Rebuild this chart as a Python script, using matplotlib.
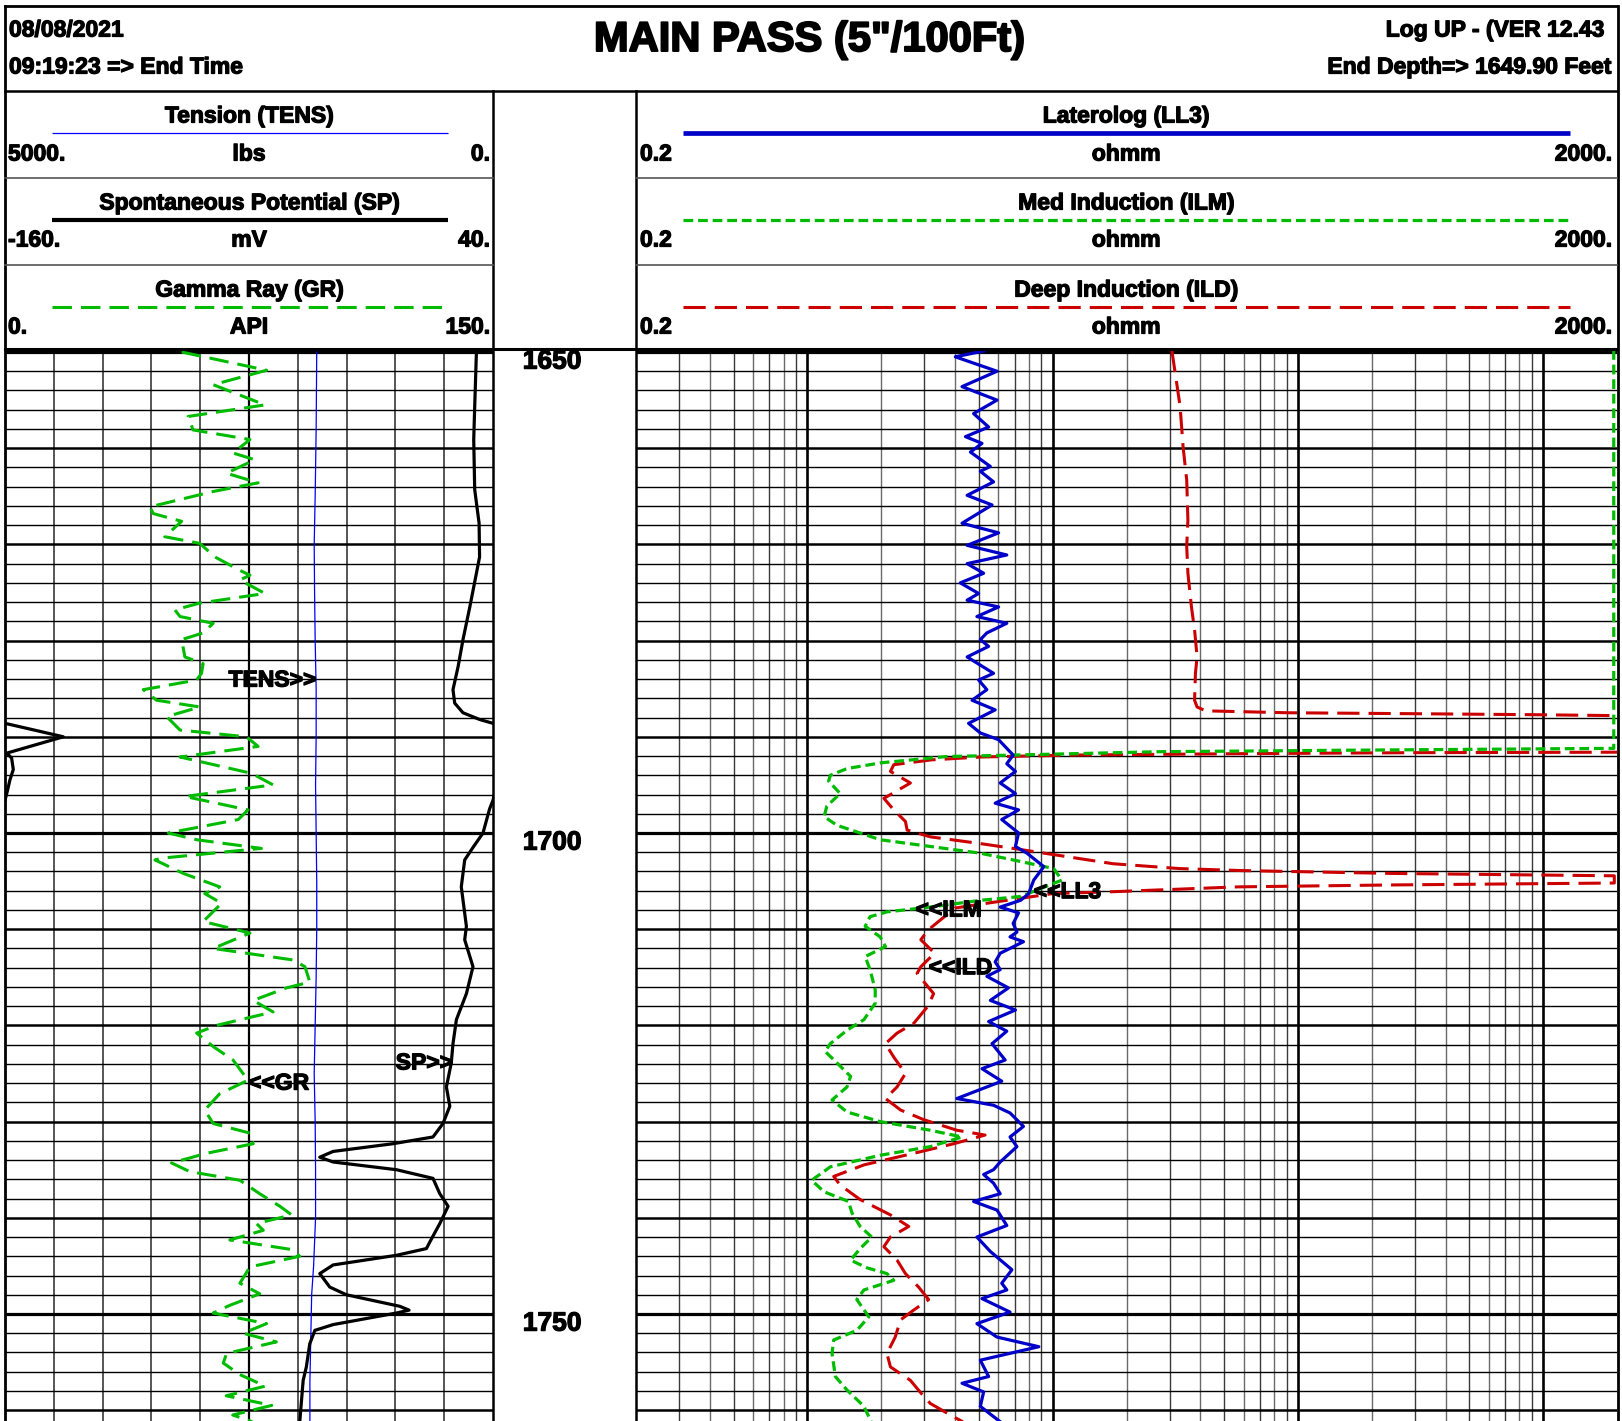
import matplotlib
matplotlib.use('Agg')
import matplotlib.pyplot as plt
import matplotlib.patheffects as pe
import numpy as np

# ---------------------------------------------------------------- data
gr_depth = [1650.0, 1651.9, 1653.4, 1655.5, 1656.7, 1658.1, 1659.1, 1660.5, 1661.2, 1662.6,
            1663.6, 1664.5, 1666.1, 1666.8, 1667.6, 1669.2, 1669.9, 1671.3, 1672.7, 1673.2,
            1673.7, 1675.1, 1676.1, 1676.8, 1677.5, 1678.2, 1679.2, 1679.9, 1681.7, 1682.4,
            1683.4, 1684.1, 1685.1, 1686.2, 1686.9, 1687.9, 1689.3, 1690.0, 1691.0, 1692.1,
            1693.8, 1695.0, 1696.2, 1697.6, 1698.6, 1700.0, 1700.7, 1701.6, 1702.6, 1702.8,
            1704.2, 1705.6, 1706.3, 1707.3, 1709.2, 1710.4, 1712.0, 1713.2, 1713.9, 1715.5,
            1716.1, 1717.4, 1718.6, 1720.0, 1720.8, 1722.2, 1723.6, 1725.7, 1727.1, 1728.8,
            1730.2, 1731.2, 1732.3, 1733.3, 1734.3, 1735.2, 1736.1, 1737.5, 1738.8, 1739.7,
            1740.6, 1741.3, 1742.3, 1743.3, 1744.0, 1745.1, 1746.8, 1747.9, 1749.1, 1749.9,
            1751.0, 1752.0, 1752.9, 1754.1, 1755.1, 1756.3, 1757.5, 1758.5, 1759.5, 1760.5,
            1761.2]
gr_api = [54.3, 80.4, 64.0, 79.9, 56.3, 57.8, 75.3, 70.1, 76.8, 68.1,
          77.8, 64.0, 44.5, 45.6, 54.3, 49.1, 59.9, 64.5, 72.2, 75.3,
          72.2, 79.9, 59.9, 52.2, 53.8, 64.0, 60.9, 54.3, 55.3, 60.9,
          60.4, 58.9, 42.5, 46.6, 59.9, 49.7, 53.8, 74.2, 77.8, 53.8,
          75.8, 82.4, 55.3, 74.7, 71.7, 50.2, 58.9, 78.8, 48.6, 46.1,
          54.8, 66.0, 61.4, 66.6, 60.9, 75.3, 64.0, 88.6, 92.2, 93.7,
          86.5, 76.3, 82.4, 65.0, 58.9, 64.0, 70.1, 74.7, 66.0, 61.4,
          64.0, 75.3, 76.3, 61.9, 51.2, 56.8, 72.2, 78.3, 84.5, 88.1,
          77.3, 79.4, 69.1, 88.1, 90.6, 75.3, 72.2, 78.3, 69.1, 64.0,
          80.4, 73.2, 83.4, 68.1, 67.1, 72.2, 80.0, 68.0, 82.0, 70.0,
          76.0]

sp_depth = [1650.0, 1655.7, 1659.1, 1664.3, 1667.8, 1671.3, 1673.0, 1676.5, 1679.9, 1682.7,
            1685.1, 1686.5, 1687.5, 1688.2, 1688.6, 1689.3, 1690.0, 1690.9, 1691.7, 1692.2,
            1693.4, 1694.5, 1695.6, 1696.6, 1697.5, 1700.0, 1701.5, 1702.8, 1705.6, 1709.7,
            1711.1, 1713.9, 1716.7, 1719.4, 1721.9, 1723.9, 1726.4, 1728.4, 1730.2, 1731.6,
            1732.3, 1733.1, 1733.7, 1734.2, 1735.0, 1735.9, 1737.5, 1738.8, 1740.6, 1741.9,
            1743.2, 1743.9, 1744.9, 1745.8, 1747.2, 1748.0, 1749.2, 1749.6, 1749.9, 1751.1,
            1751.7, 1753.1, 1755.5, 1756.9, 1761.2]
sp_mv = [33.2, 32.5, 32.1, 32.5, 34.3, 34.5, 33.2, 30.5, 27.7, 25.7,
         23.6, 24.3, 27.7, 34.5, 40.0, 52.0, 63.9, 51.6, 40.7, 42.7,
         43.4, 42.0, 41.0, 40.0, 38.6, 35.9, 31.8, 28.4, 27.0, 29.1,
         28.4, 31.8, 29.1, 25.0, 23.6, 22.9, 20.9, 22.3, 19.5, 15.4,
         -1.0, -25.5, -31.0, -25.5, 0.4, 15.4, 18.2, 21.6, 18.2, 15.4,
         12.7, 0.4, -25.5, -31.0, -26.9, -20.1, 1.8, 5.6, 0.4, -25.5,
         -33.0, -35.1, -36.5, -37.8, -39.2]

tens_depth = [1650, 1658, 1665, 1670, 1675, 1680, 1685, 1690, 1695, 1700, 1705, 1710,
              1715, 1720, 1725, 1730, 1735, 1740, 1745, 1748, 1752, 1757, 1761.2]
tens_lbs = [1806, 1812, 1822, 1832, 1828, 1822, 1812, 1812, 1818, 1812, 1806, 1806,
            1812, 1822, 1832, 1822, 1818, 1818, 1838, 1858, 1866, 1876, 1876]

ll3_depth = [1649.9, 1650.5, 1652.0, 1653.6, 1655.0, 1656.4, 1657.8, 1658.8, 1659.5, 1660.4,
             1661.9, 1662.4, 1663.5, 1664.9, 1665.9, 1667.8, 1668.8, 1670.1, 1671.1, 1672.0,
             1673.0, 1674.0, 1675.1, 1675.8, 1676.5, 1677.5, 1678.2, 1679.2, 1679.9, 1680.6,
             1681.7, 1683.4, 1684.1, 1685.1, 1686.2, 1687.2, 1688.6, 1689.6, 1690.3, 1691.9,
             1692.8, 1693.6, 1694.8, 1695.9, 1696.9, 1697.6, 1698.6, 1700.0, 1701.4, 1702.1,
             1703.5, 1704.9, 1706.3, 1707.0, 1707.7, 1708.3, 1709.4, 1710.3, 1710.8, 1711.3,
             1712.5, 1713.4, 1714.2, 1714.9, 1716.1, 1717.4, 1718.4, 1719.6, 1720.6, 1721.9,
             1723.6, 1724.5, 1725.8, 1727.6, 1728.3, 1729.1, 1730.5, 1731.6, 1732.6, 1734.2,
             1735.0, 1735.5, 1736.4, 1737.5, 1738.3, 1739.2, 1740.8, 1742.0, 1743.5, 1745.4,
             1746.8, 1747.5, 1748.4, 1749.8, 1751.0, 1752.4, 1753.4, 1754.8, 1756.5, 1757.2,
             1758.1, 1759.6, 1761.2]
ll3_ohmm = [5.23, 4.01, 5.93, 4.27, 5.93, 4.76, 5.48, 4.41, 5.15, 4.62,
            5.57, 5.07, 5.74, 4.48, 5.66, 4.27, 6.02, 4.48, 6.50, 4.48,
            5.23, 4.20, 4.99, 4.48, 6.02, 4.91, 6.50, 5.39, 5.07, 5.48,
            4.48, 5.74, 4.99, 5.39, 4.69, 5.83, 4.54, 5.07, 6.02, 6.90,
            6.50, 7.05, 6.11, 7.05, 5.83, 7.26, 6.20, 7.26, 7.05, 7.86,
            9.20, 8.37, 7.98, 7.40, 6.11, 7.26, 6.90, 7.15, 6.70, 7.60,
            6.11, 5.83, 6.11, 5.39, 6.60, 5.57, 7.05, 5.48, 6.50, 5.66,
            6.40, 5.15, 6.20, 4.07, 5.74, 6.70, 7.60, 6.70, 7.15, 6.11,
            5.74, 5.23, 5.74, 6.11, 4.76, 5.93, 6.50, 4.91, 5.57, 6.82,
            6.20, 6.50, 5.15, 6.70, 4.91, 5.93, 8.78, 5.07, 5.48, 4.27,
            5.23, 5.07, 6.11]

ilm_depth = [1649.8, 1691.2, 1691.4, 1691.55, 1691.9, 1692.05, 1692.7, 1693.3, 1694.0, 1694.6,
             1695.9, 1697.2, 1698.3, 1699.2, 1700.0, 1700.7, 1701.4, 1702.1, 1702.8, 1703.7,
             1704.9, 1706.6, 1707.0, 1707.7, 1708.2, 1708.7, 1709.7, 1710.8, 1711.8, 1712.85,
             1714.2, 1716.3, 1717.7, 1719.4, 1720.5, 1721.9, 1722.7, 1723.9, 1725.3, 1726.4,
             1727.75, 1729.0, 1730.0, 1730.9, 1731.6, 1732.6, 1733.5, 1734.7, 1736.1, 1737.3,
             1738.3, 1739.5, 1740.9, 1742.0, 1743.2, 1744.4, 1745.2, 1745.8, 1746.5, 1747.5,
             1748.5, 1750.3, 1751.7, 1752.7, 1754.1, 1756.5, 1757.9, 1759.6, 1761.2]
ilm_ohmm = [1940, 1940, 150, 27, 6.9, 3.7, 2.0, 1.45, 1.24, 1.22,
            1.36, 1.20, 1.17, 1.32, 1.64, 1.98, 3.17, 5.07, 6.9, 10.1,
            10.9, 7.4, 5.07, 3.17, 2.11, 1.80, 1.72, 1.98, 2.08, 1.72,
            1.80, 1.89, 1.89, 1.70, 1.45, 1.24, 1.18, 1.32, 1.50, 1.45,
            1.26, 1.45, 1.98, 3.17, 4.27, 3.17, 1.98, 1.24, 1.04, 1.17,
            1.47, 1.52, 1.64, 1.83, 1.64, 1.50, 1.75, 2.11, 2.25, 1.70,
            1.59, 1.78, 1.59, 1.28, 1.26, 1.30, 1.45, 1.70, 1.82]

ild_depth = [1649.8, 1652.2, 1655.7, 1659.8, 1663.3, 1667.5, 1670.2, 1673.0, 1676.5, 1678.9,
             1681.7, 1683.4, 1686.2, 1686.9, 1687.3, 1687.5, 1687.6, 1687.7, 1687.8, 1688.0,
             1691.4, 1691.6, 1691.65, 1691.75, 1691.9, 1692.1, 1692.4, 1692.9, 1693.6, 1694.8,
             1696.4, 1697.6, 1698.8, 1699.7, 1700.4, 1701.1, 1701.6, 1702.3, 1703.2, 1703.7,
             1703.9, 1704.2, 1704.45, 1705.2, 1705.4, 1705.6, 1706.1, 1706.3, 1706.9, 1707.3,
             1707.8, 1708.5, 1710.1, 1711.1, 1712.5, 1713.9, 1714.6, 1716.7, 1718.0, 1719.8,
             1720.8, 1721.9, 1723.3, 1725.0, 1726.4, 1727.6, 1728.8, 1729.8, 1730.9, 1731.4,
             1732.3, 1733.3, 1734.5, 1735.7, 1736.6, 1738.1, 1739.7, 1740.9, 1742.0, 1743.0,
             1744.4, 1745.8, 1747.2, 1748.5, 1749.6, 1750.6, 1752.4, 1754.1, 1755.5, 1756.9,
             1758.2, 1759.3, 1760.7, 1761.2]
ild_ohmm = [30.6, 31.6, 33.1, 34.0, 35.2, 35.6, 35.2, 35.6, 36.8, 37.9,
            38.8, 38.2, 37.9, 38.8, 42, 90, 300, 900, 2000, 5000,
            5000, 2000, 300, 60, 12, 5.1, 3.2, 2.25, 2.18, 2.63,
            2.05, 2.25, 2.51, 2.55, 3.17, 5.07, 6.9, 10.4, 17.7, 33,
            58, 240, 1950, 1950, 240, 57, 17.7, 10, 6.9, 5.4,
            4.0, 3.7, 3.1, 2.9, 3.3, 2.9, 2.8, 3.27, 3.1, 2.71,
            2.32, 2.08, 2.25, 2.51, 2.32, 2.08, 2.4, 2.98, 4.07, 5.3,
            3.95, 2.71, 1.70, 1.28, 1.36, 1.64, 2.18, 2.59, 2.18, 2.05,
            2.32, 2.51, 2.84, 3.12, 2.71, 2.4, 2.28, 2.11, 2.18, 2.63,
            2.9, 3.17, 3.95, 4.3]

depth_labels = [1650, 1700, 1750]

gr_scale = (0, 150)
sp_scale = (-160, 40)
tens_scale = (5000, 0)
res_scale = (0.2, 2000)

header_left = ["08/08/2021", "09:19:23 => End Time"]
header_right = ["Log UP - (VER 12.43", "End Depth=> 1649.90 Feet"]
title = 'MAIN PASS (5"/100Ft)'
left_rows = [("Tension (TENS)", "5000.", "lbs", "0."),
             ("Spontaneous Potential (SP)", "-160.", "mV", "40."),
             ("Gamma Ray (GR)", "0.", "API", "150.")]
right_rows = [("Laterolog (LL3)", "0.2", "ohmm", "2000."),
              ("Med Induction (ILM)", "0.2", "ohmm", "2000."),
              ("Deep Induction (ILD)", "0.2", "ohmm", "2000.")]

# ---------------------------------------------------------------- styles
plt.rcParams['font.family'] = ['Liberation Sans', 'DejaVu Sans']
plt.rcParams['lines.scale_dashes'] = False
GREEN = '#00BB00'
RED = '#CC0000'
BLUE = '#0000C8'
TBLUE = '#0000FF'
st_gr = dict(color=GREEN, lw=2.2, dashes=(14, 6.5))
st_sp = dict(color='black', lw=2.3, solid_joinstyle='round')
st_tens = dict(color=TBLUE, lw=0.9)
st_ll3 = dict(color=BLUE, lw=2.3, solid_joinstyle='round')
st_ilm = dict(color=GREEN, lw=2.3, dashes=(7, 3.5))
st_ild = dict(color=RED, lw=2.2, dashes=(16, 6.5))
BOLDER = [pe.withStroke(linewidth=0.9, foreground='black')]

W, H = 1622, 1421
fig = plt.figure(figsize=(W / 100, H / 100), dpi=100)

TRACK_TOP, TRACK_BOT = 350, 1421
PX_FT, Y1650 = 9.62, 352
d_top = 1650 + (TRACK_TOP - Y1650) / PX_FT
d_bot = 1650 + (TRACK_BOT - Y1650) / PX_FT


def px_axes(x0, y0, x1, y1):
    return fig.add_axes([x0 / W, 1 - y1 / H, (x1 - x0) / W, (y1 - y0) / H])


def depth_grid(ax):
    for d in np.arange(1650, 1762, 2):
        if d % 50 == 0:
            lw = 2.3
        elif d % 10 == 0:
            lw = 1.8
        else:
            lw = 1.0
        ax.axhline(d, color='black', lw=lw, zorder=1)


def clean(ax):
    ax.set_xticks([])
    ax.set_yticks([])
    for s in ax.spines.values():
        s.set_visible(False)


# ---------------- left track
ax_l = px_axes(5, TRACK_TOP, 493, TRACK_BOT)
ax_l.set_xlim(0, 10)
ax_l.set_ylim(d_bot, d_top)
clean(ax_l)
for i in range(1, 10):
    ax_l.axvline(i, color='black' if i == 5 else '#555555', lw=1.6 if i == 5 else 1.4, zorder=1)
depth_grid(ax_l)

ax_tens = ax_l.twiny()
ax_tens.set_xlim(*tens_scale)
ax_tens.axis('off')
ax_tens.plot(tens_lbs, tens_depth, **st_tens)

ax_sp = ax_l.twiny()
ax_sp.set_xlim(*sp_scale)
ax_sp.axis('off')
sp_arr = np.array(sp_mv)
ax_sp.plot(sp_arr, sp_depth, **st_sp)
ax_sp.plot(sp_arr - (sp_scale[1] - sp_scale[0]), sp_depth, **st_sp)  # wrapped backup

ax_gr = ax_l.twiny()
ax_gr.set_xlim(*gr_scale)
ax_gr.axis('off')
ax_gr.plot(gr_api, gr_depth, **st_gr)
ax_gr.set_ylim(d_bot, d_top)

lab = dict(fontsize=16.5, fontweight='bold', va='center', zorder=6, path_effects=BOLDER)
ax_tens.text(1812, 1684.1, "TENS>>", ha='right', **lab)
ax_gr.text(74.7, 1726.0, "<<GR", ha='left', **lab)
ax_sp.text(23.6, 1723.9, "SP>>", ha='right', **lab)

# ---------------- depth column
ax_d = px_axes(493, TRACK_TOP, 636, TRACK_BOT)
ax_d.set_xlim(0, 1)
ax_d.set_ylim(d_bot, d_top)
clean(ax_d)
for d in depth_labels:
    ax_d.text(0.413, d + 1.0, str(d), ha='center', va='center', fontsize=19,
              fontweight='bold', path_effects=BOLDER)

# ---------------- right track
ax_r = px_axes(636, TRACK_TOP, 1617, TRACK_BOT)
ax_r.set_xscale('log')
ax_r.set_xlim(*res_scale)
ax_r.set_ylim(d_bot, d_top)
ax_r.minorticks_off()
clean(ax_r)
for dec in [0.1, 1, 10, 100, 1000]:
    for m in range(1, 10):
        v = m * dec
        if res_scale[0] < v < res_scale[1]:
            if m == 1:
                ax_r.axvline(v, color='black', lw=1.9, zorder=1)
            else:
                ax_r.axvline(v, color='#3a3a3a' if m % 2 else '#6a6a6a', lw=1.0, zorder=1)
depth_grid(ax_r)
ax_r.plot(ild_ohmm, ild_depth, zorder=3, **st_ild)
ax_r.plot(ilm_ohmm, ilm_depth, zorder=4, **st_ilm)
ax_r.plot(ll3_ohmm, ll3_depth, zorder=5, **st_ll3)
ax_r.text(8.37, 1706.1, "<<LL3", ha='left', **lab)
ax_r.text(2.76, 1708.0, "<<ILM", ha='left', **lab)
ax_r.text(3.12, 1714.0, "<<ILD", ha='left', **lab)

# ---------------- header / frames (pixel overlay)
ax_o = fig.add_axes([0, 0, 1, 1])
ax_o.set_xlim(0, W)
ax_o.set_ylim(H, 0)
ax_o.axis('off')
ax_o.patch.set_visible(False)


def seg(x0, y0, x1, y1, lw=1.8, color='black', **kw):
    ax_o.plot([x0, x1], [y0, y1], color=color, lw=lw, solid_capstyle='projecting', **kw)


# outer frame
seg(5, 6, 1617, 6, lw=2.0)
seg(5, 6, 5, H, lw=2.0)
seg(1618, 6, 1618, H, lw=2.0)
seg(5, 91, 1617, 91, lw=1.8)
seg(5, 349, 1617, 349, lw=2.2)
seg(493, 91, 493, H, lw=1.8)
seg(636, 91, 636, H, lw=1.8)
for yy in (178, 265):
    seg(5, yy, 493, yy, lw=1.2, color='#555555')
    seg(636, yy, 1617, yy, lw=1.2, color='#555555')

hdr = dict(fontsize=16.5, fontweight='bold', va='center', path_effects=BOLDER)
ax_o.text(9, 30, header_left[0], ha='left', **hdr)
ax_o.text(9, 67, header_left[1], ha='left', **hdr)
ax_o.text(1604, 30, header_right[0], ha='right', **hdr)
ax_o.text(1611, 67, header_right[1], ha='right', **hdr)
ax_o.text(809, 40, title, ha='center', va='center', fontsize=30, fontweight='bold',
          path_effects=[pe.withStroke(linewidth=1.4, foreground='black')])

row_y = [(116, 133, 154), (203, 220, 240), (290, 307, 327)]
left_styles = [st_tens, st_sp, st_gr]
right_styles = [st_ll3, st_ilm, st_ild]
for (ty, ly, sy), row, st in zip(row_y, left_rows, left_styles):
    ax_o.text(249, ty, row[0], ha='center', **hdr)
    stl = dict(st)
    if row[0].startswith('Spont'):
        stl['lw'] = 3.0
    ax_o.plot([52, 448], [ly, ly], solid_capstyle='butt', **stl)
    ax_o.text(8, sy, row[1], ha='left', **hdr)
    ax_o.text(249, sy, row[2], ha='center', **hdr)
    ax_o.text(490, sy, row[3], ha='right', **hdr)
for (ty, ly, sy), row, st in zip(row_y, right_rows, right_styles):
    ax_o.text(1126, ty, row[0], ha='center', **hdr)
    stl = dict(st)
    if row[0].startswith('Later'):
        stl['lw'] = 3.4
    ax_o.plot([683, 1570], [ly, ly], solid_capstyle='butt', **stl)
    ax_o.text(640, sy, row[1], ha='left', **hdr)
    ax_o.text(1126, sy, row[2], ha='center', **hdr)
    ax_o.text(1612, sy, row[3], ha='right', **hdr)

fig.savefig('out.png', dpi=100)
